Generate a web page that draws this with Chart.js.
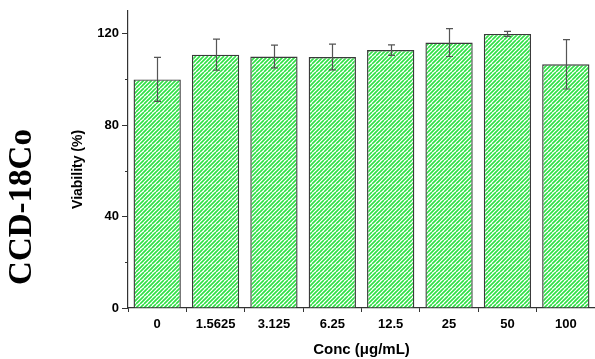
<!DOCTYPE html>
<html lang="en">
<head>
    <meta charset="UTF-8">
    <title>CCD-18Co Viability</title>
    <style>
        body {
            margin: 0;
            padding: 0;
            background-color: #fff;
        }
        .wrap {
            width: 595px;
            height: 359px;
            position: relative;
        }
    </style>
    <script src="https://cdn.jsdelivr.net/npm/chart.js"></script>
</head>
<body>
    <div class="wrap">
        <canvas id="viabilityChart" width="595" height="359"></canvas>
    </div>

    <script>
        const concentrations = ['0', '1.5625', '3.125', '6.25', '12.5', '25', '50', '100'];
        const viability = [100, 110.8, 110.0, 109.8, 112.8, 116.1, 119.9, 106.6];
        const viabilityErr = [9.6, 6.8, 5.0, 5.6, 2.3, 6.1, 1.1, 10.8];
        const majorTicks = [0, 40, 80, 120];
        const minorTicks = [20, 60, 100];
        const cellLine = 'CCD-18Co';
        const yTitle = 'Viability (%)';

        // diagonal green hatch fill
        function hatchPattern() {
            const size = 8;
            const c = document.createElement('canvas');
            c.width = size;
            c.height = size;
            const g = c.getContext('2d');
            g.fillStyle = '#ffffff';
            g.fillRect(0, 0, size, size);
            g.strokeStyle = '#2ee044';
            g.lineWidth = 1.6;
            g.beginPath();
            for (let k = -size; k <= size * 2; k += 4) {
                g.moveTo(k, size);
                g.lineTo(k + size, 0);
            }
            g.stroke();
            return g.createPattern(c, 'repeat');
        }

        const extras = {
            id: 'extras',
            afterDatasetsDraw(chart) {
                const ctx = chart.ctx;
                const x = chart.scales.x;
                const y = chart.scales.y;
                const meta = chart.getDatasetMeta(0);

                // error bars
                ctx.save();
                ctx.strokeStyle = '#555';
                ctx.lineWidth = 1.2;
                meta.data.forEach((bar, i) => {
                    const cx = Math.round(bar.x) + 0.5;
                    const top = y.getPixelForValue(viability[i] + viabilityErr[i]);
                    const bottom = y.getPixelForValue(viability[i] - viabilityErr[i]);
                    ctx.beginPath();
                    ctx.moveTo(cx, top);
                    ctx.lineTo(cx, bottom);
                    ctx.moveTo(cx - 3.5, top);
                    ctx.lineTo(cx + 3.5, top);
                    ctx.moveTo(cx - 3.5, bottom);
                    ctx.lineTo(cx + 3.5, bottom);
                    ctx.stroke();
                });

                // minor ticks on the y axis
                ctx.strokeStyle = '#333';
                ctx.lineWidth = 1;
                minorTicks.forEach(v => {
                    const py = Math.round(y.getPixelForValue(v)) + 0.5;
                    ctx.beginPath();
                    ctx.moveTo(x.left - 3, py);
                    ctx.lineTo(x.left, py);
                    ctx.stroke();
                });
                ctx.restore();
            },
            afterDraw(chart) {
                const ctx = chart.ctx;
                const area = chart.chartArea;
                ctx.save();
                ctx.fillStyle = '#000';
                ctx.textAlign = 'center';
                ctx.textBaseline = 'middle';

                // y axis title, sitting a little below the middle of the axis
                ctx.save();
                ctx.translate(78, (area.top + area.bottom) / 2 + 10);
                ctx.rotate(-Math.PI / 2);
                ctx.font = 'bold 14px Arial, "Liberation Sans", sans-serif';
                ctx.fillText(yTitle, 0, 0);
                ctx.restore();

                // cell line name
                ctx.translate(22, 207);
                ctx.rotate(-Math.PI / 2);
                ctx.font = 'bold 33px "Liberation Serif", "Times New Roman", serif';
                ctx.fillText(cellLine, 0, 0);
                ctx.restore();
            }
        };

        new Chart(document.getElementById('viabilityChart'), {
            type: 'bar',
            data: {
                labels: concentrations,
                datasets: [{
                    data: viability,
                    backgroundColor: hatchPattern(),
                    borderColor: '#3a3a3a',
                    borderWidth: 1.4,
                    categoryPercentage: 0.81,
                    barPercentage: 1.0
                }]
            },
            options: {
                responsive: false,
                animation: false,
                layout: {
                    padding: { left: 60, right: 0, top: 8, bottom: 0 }
                },
                plugins: {
                    legend: { display: false },
                    tooltip: { enabled: false }
                },
                scales: {
                    x: {
                        grid: {
                            drawOnChartArea: false,
                            tickLength: 4,
                            color: '#333'
                        },
                        border: { color: '#333', width: 1.2 },
                        ticks: {
                            color: '#000',
                            padding: 5,
                            font: { family: 'Arial, "Liberation Sans", sans-serif', size: 13, weight: 'bold' }
                        },
                        title: {
                            display: true,
                            text: 'Conc (μg/mL)',
                            color: '#000',
                            padding: { top: 2, bottom: 0 },
                            font: { family: 'Arial, "Liberation Sans", sans-serif', size: 15, weight: 'bold' }
                        },
                        afterFit(scale) { scale.height = 51; }
                    },
                    y: {
                        min: 0,
                        max: 130,
                        grid: {
                            drawOnChartArea: false,
                            tickLength: 6,
                            color: '#333',
                            tickColor: c => (majorTicks.includes(c.tick && c.tick.value) ? '#333' : 'rgba(0,0,0,0)')
                        },
                        border: { color: '#333', width: 1.2 },
                        ticks: {
                            stepSize: 20,
                            includeBounds: false,
                            color: '#000',
                            padding: 3,
                            font: { family: 'Arial, "Liberation Sans", sans-serif', size: 13, weight: 'bold' },
                            callback: v => (majorTicks.includes(v) ? v : '')
                        },
                        afterFit(scale) { scale.width = 68; }
                    }
                }
            },
            plugins: [extras]
        });
    </script>
</body>
</html>
